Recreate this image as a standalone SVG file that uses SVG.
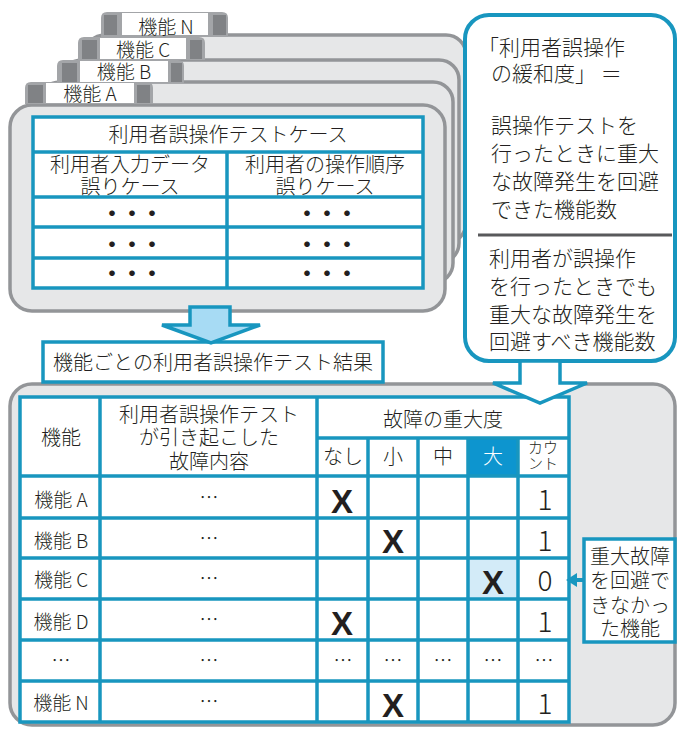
<svg xmlns="http://www.w3.org/2000/svg" width="678" height="731" viewBox="0 0 678 731">
<style>
.card{fill:#e6e7e8;stroke:#939598;stroke-width:3.5}
.tab{fill:#a3a5a8}
.tabdk{fill:#808285}
.tabwh{fill:#ffffff}
.bl{fill:none;stroke:#1896bf;stroke-width:3.5;stroke-linecap:square}
.cell{fill:#ffffff}
.t{font-family:'Noto Sans CJK JP','Noto Sans',sans-serif;font-weight:300;fill:#231f20}
.c{text-anchor:middle}
.f20{font-size:20px}
.f19{font-size:19px}
.f21{font-size:21px}
.x{font-family:'Liberation Sans',Arial,sans-serif;font-weight:bold;font-size:33px;fill:#231f20;text-anchor:middle}
.dots{font-family:'Noto Sans CJK JP',sans-serif;font-size:22px;letter-spacing:-2px;fill:#231f20;text-anchor:middle;font-weight:bold}
</style>

<!-- back cards -->
<g id="card-N">
  <rect class="card" x="85" y="35" width="381" height="208" rx="20"/>
  <path class="tab" d="M101 37 V18 Q101 12 107 12 H222 Q228 12 228 18 V37 Z"/>
  <rect class="tabdk" x="104" y="15" width="13" height="20"/>
  <rect class="tabwh" x="122" y="13" width="86" height="22"/>
  <rect class="tabdk" x="213" y="15" width="13" height="20"/>
  <text class="t c f19" x="166" y="34">機能 N</text>
</g>
<g id="card-C">
  <rect class="card" x="62" y="60" width="397" height="203" rx="20"/>
  <path class="tab" d="M78 60 V43 Q78 37 84 37 H199 Q205 37 205 43 V60 Z"/>
  <rect class="tabdk" x="82" y="40" width="15" height="19"/>
  <rect class="tabwh" x="100" y="38" width="86" height="21"/>
  <rect class="tabdk" x="190" y="40" width="12" height="19"/>
  <text class="t c f19" x="143" y="57">機能 C</text>
</g>
<g id="card-B">
  <rect class="card" x="40" y="82" width="413" height="201" rx="20"/>
  <path class="tab" d="M57 83 V66 Q57 60 63 60 H178 Q184 60 184 66 V83 Z"/>
  <rect class="tabdk" x="62" y="63" width="15" height="19"/>
  <rect class="tabwh" x="80" y="61" width="88" height="21"/>
  <rect class="tabdk" x="171" y="63" width="11" height="19"/>
  <text class="t c f19" x="124" y="79">機能 B</text>
</g>
<g id="card-A">
  <rect class="card" x="10" y="105" width="435" height="206" rx="22"/>
  <path class="tab" d="M25 104 V88 Q25 82 31 82 H147 Q153 82 153 88 V104 Z"/>
  <rect class="tabdk" x="28" y="85" width="15" height="18"/>
  <rect class="tabwh" x="46" y="83" width="88" height="20"/>
  <rect class="tabdk" x="137" y="85" width="13" height="18"/>
  <text class="t c f19" x="90" y="101">機能 A</text>
  <rect class="cell" x="33" y="117" width="390" height="171"/>
  <path class="bl" d="M33 117 H423 V288 H33 Z M33 152 H423 M33 197 H423 M33 227 H423 M33 258 H423 M227 152 V288"/>
  <text class="t c f20" x="228" y="142">利用者誤操作テストケース</text>
  <text class="t c f20" x="130" y="172">利用者入力データ</text>
  <text class="t c f20" x="130" y="194">誤りケース</text>
  <text class="t c f20" x="325" y="172">利用者の操作順序</text>
  <text class="t c f20" x="325" y="194">誤りケース</text>
  <text class="dots" x="131" y="221">・・・</text>
  <text class="dots" x="326" y="221">・・・</text>
  <text class="dots" x="131" y="252">・・・</text>
  <text class="dots" x="326" y="252">・・・</text>
  <text class="dots" x="131" y="281">・・・</text>
  <text class="dots" x="326" y="281">・・・</text>
</g>

<!-- results panel -->
<g id="result-panel">
  <rect class="card" x="10" y="384" width="665" height="341" rx="22"/>
</g>

<g id="result-label">
  <rect x="43" y="342" width="340" height="40" fill="#ffffff" stroke="#1896bf" stroke-width="3.5"/>
  <text class="t c f20" x="213" y="370">機能ごとの利用者誤操作テスト結果</text>
</g>

<g id="result-table">
  <rect class="cell" x="20" y="397" width="549" height="325"/>
  <rect x="468" y="438" width="50" height="38" fill="#0d95cf"/>
  <rect x="468" y="558" width="50" height="41" fill="#d3ebf8"/>
  <path class="bl" d="M20 397 H569 V722 H20 Z M317 438 H569 M20 476 H569 M20 518 H569 M20 558 H569 M20 599 H569 M20 640 H569 M20 681 H569 M100 397 V722 M317 397 V722 M368 438 V722 M418 438 V722 M468 438 V722 M518 438 V722"/>
  <text class="t c f20" x="61" y="445">機能</text>
  <text class="t c f20" x="209" y="422">利用者誤操作テスト</text>
  <text class="t c f20" x="209" y="445">が引き起こした</text>
  <text class="t c f20" x="209" y="469">故障内容</text>
  <text class="t c f20" x="443" y="427">故障の重大度</text>
  <text class="t c f20" x="343" y="464">なし</text>
  <text class="t c f20" x="393" y="464">小</text>
  <text class="t c f20" x="443" y="464">中</text>
  <text class="t c f20" x="493" y="464" style="fill:#ffffff">大</text>
  <text class="t c" x="543" y="453" font-size="15">カウ</text>
  <text class="t c" x="543" y="469" font-size="15">ント</text>

  <text class="t c f19" x="61" y="507">機能 A</text>
  <text class="t c f19" x="61" y="548">機能 B</text>
  <text class="t c f19" x="61" y="587">機能 C</text>
  <text class="t c f19" x="61" y="629">機能 D</text>
  <text class="t c f19" x="61" y="668">…</text>
  <text class="t c f19" x="61" y="710">機能 N</text>

  <text class="t c f19" x="209" y="505">…</text>
  <text class="t c f19" x="209" y="546">…</text>
  <text class="t c f19" x="209" y="586">…</text>
  <text class="t c f19" x="209" y="627">…</text>
  <text class="t c f19" x="209" y="668">…</text>
  <text class="t c f19" x="209" y="709">…</text>

  <text class="t c f19" x="343" y="668">…</text>
  <text class="t c f19" x="393" y="668">…</text>
  <text class="t c f19" x="443" y="668">…</text>
  <text class="t c f19" x="493" y="668">…</text>
  <text class="t c f19" x="544" y="668">…</text>

  <text class="x" x="342" y="513">X</text>
  <text class="x" x="393" y="553">X</text>
  <text class="x" x="493" y="594">X</text>
  <text class="x" x="342" y="635">X</text>
  <text class="x" x="393" y="717">X</text>

  <text class="t c" font-size="28" x="545" y="510">1</text>
  <text class="t c" font-size="28" x="545" y="551">1</text>
  <text class="t c" font-size="28" x="545" y="591">0</text>
  <text class="t c" font-size="28" x="545" y="632">1</text>
  <text class="t c" font-size="28" x="545" y="714">1</text>
</g>

<!-- callout -->
<g id="callout">
  <rect x="465" y="15" width="210" height="346" rx="24" fill="#ffffff" stroke="#1896bf" stroke-width="4"/>
  <text class="t f21" x="478" y="55">「利用者誤操作</text>
  <text class="t f21" x="491" y="81">の緩和度」 ＝</text>
  <text class="t f21" x="491" y="133">誤操作テストを</text>
  <text class="t f21" x="491" y="161">行ったときに重大</text>
  <text class="t f21" x="491" y="189">な故障発生を回避</text>
  <text class="t f21" x="491" y="217">できた機能数</text>
  <line x1="478" y1="235" x2="672" y2="235" stroke="#58595b" stroke-width="3"/>
  <text class="t f21" x="489" y="266">利用者が誤操作</text>
  <text class="t f21" x="489" y="294">を行ったときでも</text>
  <text class="t f21" x="489" y="322">重大な故障発生を</text>
  <text class="t f21" x="489" y="349">回避すべき機能数</text>
</g>

<g id="note">
  <rect x="584" y="539" width="91" height="103" fill="#ffffff" stroke="#1896bf" stroke-width="3.5"/>
  <text class="t c f20" x="630" y="564">重大故障</text>
  <text class="t c f20" x="630" y="588">を回避で</text>
  <text class="t c f20" x="630" y="613">きなかっ</text>
  <text class="t c f20" x="630" y="636">た機能</text>
</g>

<g id="connectors">
  <polygon points="190,307 230,307 230,325 260,325 211,343 162,325 190,325" fill="#a7dbf4" stroke="#1896bf" stroke-width="3.5" stroke-linejoin="miter"/>
  <polygon points="520,361 560,361 560,383 587,383 540,403 493,383 520,383" fill="#ffffff" stroke="#1896bf" stroke-width="3.5"/>
  <line x1="584" y1="580" x2="574" y2="580" stroke="#1896bf" stroke-width="4"/>
  <polygon points="566,580 577,573 577,587" fill="#1896bf"/>
</g>
</svg>
